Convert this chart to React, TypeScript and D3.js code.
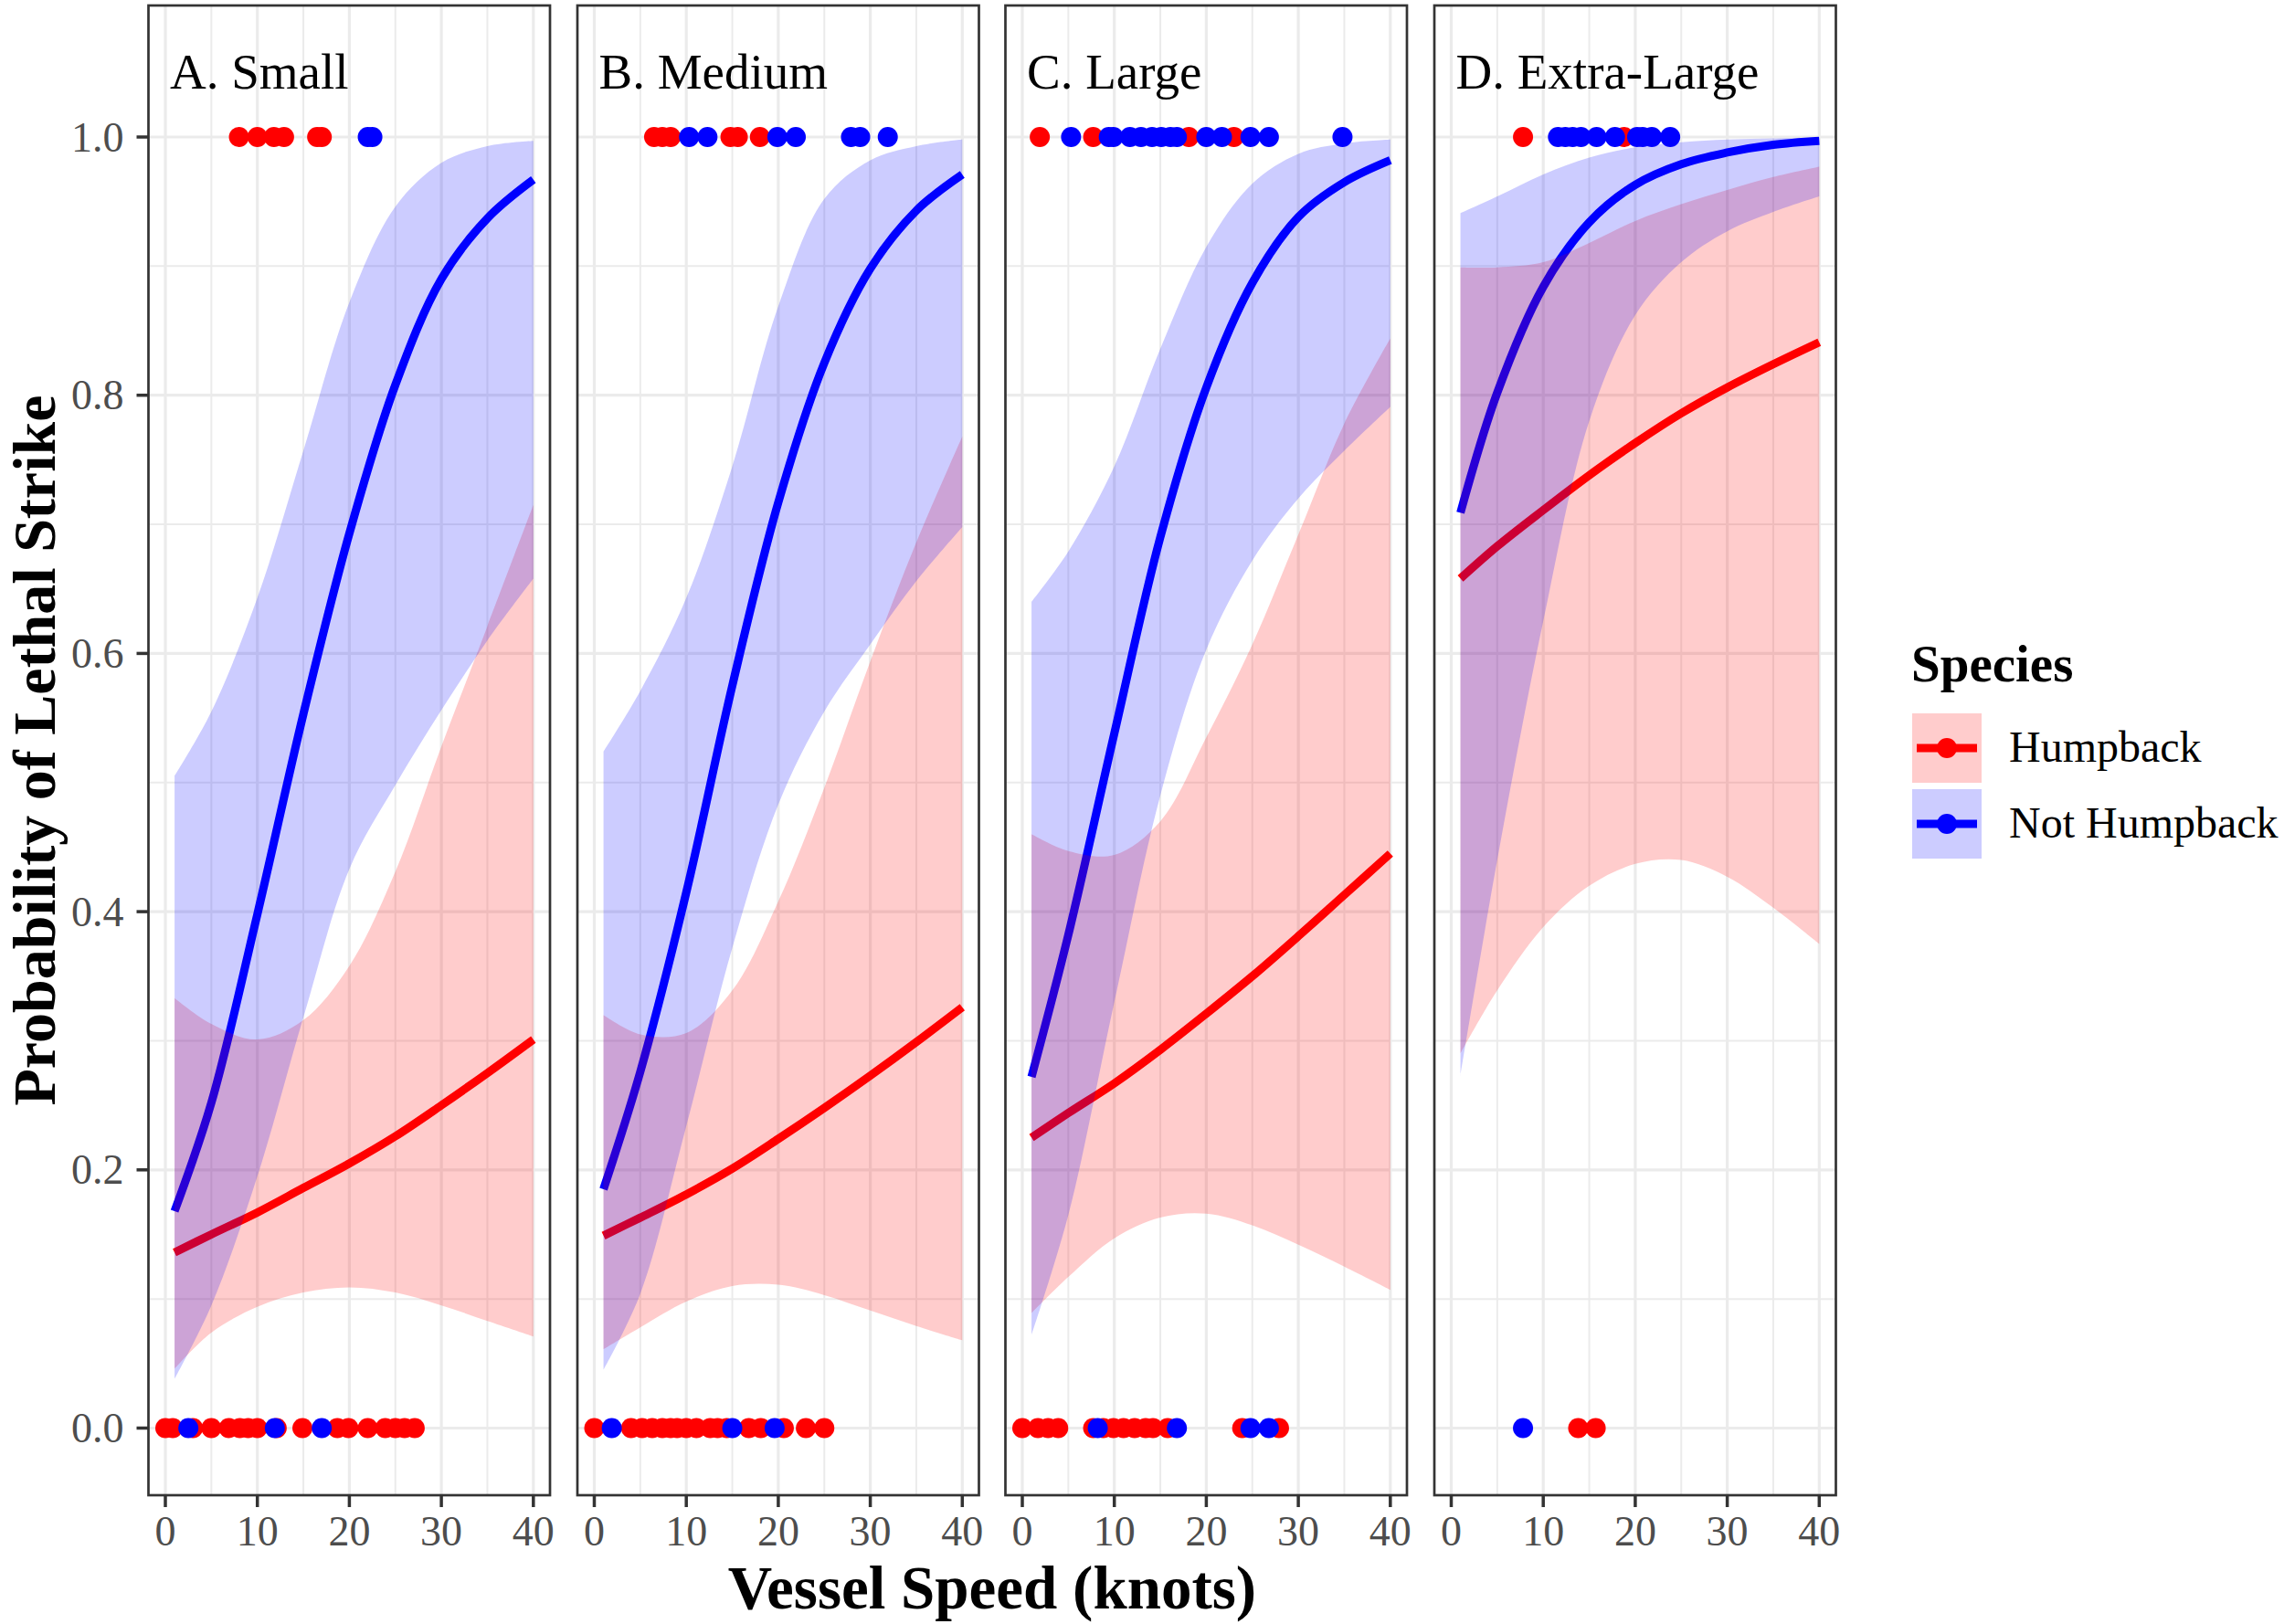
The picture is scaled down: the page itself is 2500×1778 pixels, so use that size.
import React from "react";
import * as d3 from "d3";

// ---------- data ----------
const speeds = [1, 5, 10, 15, 20, 25, 30, 35, 40];
const panelLabels = ["A. Small", "B. Medium", "C. Large", "D. Extra-Large"];
const speciesNames = ["Humpback", "Not Humpback"];
const speciesColors = ["#FF0000", "#0000FF"];
const xTicks = [0, 10, 20, 30, 40];
const xMinor = [5, 15, 25, 35];
const yTicks = [0, 0.2, 0.4, 0.6, 0.8, 1.0];
const yMinor = [0.1, 0.3, 0.5, 0.7, 0.9];

// fitted probability & confidence band, Humpback (per panel, at speeds)
const humpbackFit = [
  [0.136, 0.15, 0.167, 0.186, 0.205, 0.226, 0.25, 0.275, 0.301],
  [0.149, 0.163, 0.181, 0.201, 0.224, 0.248, 0.273, 0.299, 0.326],
  [0.225, 0.244, 0.267, 0.293, 0.321, 0.35, 0.381, 0.413, 0.445],
  [0.658, 0.683, 0.711, 0.738, 0.763, 0.786, 0.806, 0.824, 0.841],
];
const humpbackLow = [
  [0.046, 0.074, 0.094, 0.105, 0.109, 0.105, 0.095, 0.083, 0.071],
  [0.061, 0.078, 0.098, 0.11, 0.111, 0.103, 0.091, 0.079, 0.068],
  [0.089, 0.117, 0.147, 0.163, 0.166, 0.157, 0.142, 0.125, 0.107],
  [0.29, 0.339, 0.388, 0.42, 0.437, 0.44, 0.427, 0.403, 0.375],
];
const humpbackHigh = [
  [0.333, 0.313, 0.301, 0.316, 0.358, 0.431, 0.528, 0.621, 0.715],
  [0.32, 0.305, 0.306, 0.339, 0.408, 0.496, 0.594, 0.686, 0.768],
  [0.46, 0.447, 0.444, 0.47, 0.535, 0.607, 0.692, 0.778, 0.844],
  [0.899, 0.899, 0.903, 0.918, 0.935, 0.948, 0.959, 0.969, 0.977],
];

// Not Humpback
const otherFit = [
  [0.168, 0.252, 0.398, 0.553, 0.693, 0.808, 0.89, 0.937, 0.967],
  [0.185, 0.276, 0.415, 0.575, 0.717, 0.825, 0.898, 0.943, 0.971],
  [0.272, 0.382, 0.538, 0.69, 0.806, 0.887, 0.938, 0.965, 0.982],
  [0.709, 0.802, 0.884, 0.934, 0.963, 0.979, 0.988, 0.994, 0.997],
];
const otherLow = [
  [0.038, 0.095, 0.195, 0.318, 0.433, 0.498, 0.556, 0.61, 0.658],
  [0.045, 0.104, 0.234, 0.372, 0.483, 0.555, 0.607, 0.656, 0.698],
  [0.072, 0.165, 0.33, 0.49, 0.603, 0.672, 0.72, 0.757, 0.791],
  [0.273, 0.44, 0.625, 0.78, 0.862, 0.903, 0.927, 0.942, 0.954],
];
const otherHigh = [
  [0.505, 0.555, 0.643, 0.757, 0.872, 0.946, 0.98, 0.993, 0.997],
  [0.524, 0.571, 0.643, 0.745, 0.869, 0.952, 0.982, 0.993, 0.998],
  [0.64, 0.679, 0.745, 0.836, 0.915, 0.964, 0.987, 0.995, 0.998],
  [0.941, 0.954, 0.971, 0.984, 0.992, 0.996, 0.998, 0.999, 0.9995],
];

// observed strikes: speeds of lethal (1) and non-lethal (0) strikes
const humpbackLethal = [
  [8, 10, 11.8, 12.9, 16.5, 17],
  [6.5, 7.4, 8.3, 14.8, 15.6, 18],
  [1.9, 7.7, 18.1, 23],
  [7.8, 18.8],
];
const humpbackNonLethal = [
  [0, 0.8, 3, 5, 6.9, 8.1, 9, 10, 12.1, 14.9, 18.7, 19.9, 22, 23.9, 25, 26, 27.1],
  [0, 4, 5.2, 6.3, 7.4, 8.3, 9, 10, 11.1, 12.6, 13.4, 14.4, 16.8, 18.1, 20.6, 23, 25],
  [0, 1.7, 2.8, 3.9, 7.7, 8.8, 9.9, 11, 12.2, 13.4, 14.2, 15.8, 23.9, 27.9],
  [13.8, 15.7],
];
const otherLethal = [
  [22, 22.5],
  [10.3, 12.3, 19.9, 21.9, 27.9, 28.9, 31.9],
  [5.3, 9.4, 9.9, 11.7, 12.9, 14.1, 15.1, 16.1, 16.8, 20, 21.7, 24.8, 26.8, 34.8],
  [11.6, 12.4, 13.2, 14.1, 15.8, 17.8, 20.2, 20.8, 21.8, 23.8],
];
const otherNonLethal = [
  [2.5, 11.9, 17],
  [1.9, 15, 19.6],
  [8.2, 16.8, 24.8, 26.8],
  [7.8],
];

// ---------- layout ----------
const W = 2500;
const H = 1778;
const panelLefts = [162.5, 632, 1100.5, 1570];
const panelW = 439.5;
const panelTop = 6;
const panelH = 1631;
const FONT = "'Liberation Serif', 'Times New Roman', Times, serif";

const x = d3.scaleLinear().domain([-1.837, 41.807]).range([0, panelW]);
const y = d3.scaleLinear().domain([-0.052, 1.10188]).range([panelH, 0]);

const curve = d3.curveCatmullRom.alpha(0.5);

const lineGen = d3
  .line<[number, number]>()
  .x((d) => x(d[0]))
  .y((d) => y(d[1]))
  .curve(curve);

const areaGen = d3
  .area<[number, number, number]>()
  .x((d) => x(d[0]))
  .y0((d) => y(d[1]))
  .y1((d) => y(d[2]))
  .curve(curve);

function Panel({ i }: { i: number }) {
  const fits = [humpbackFit[i], otherFit[i]];
  const lows = [humpbackLow[i], otherLow[i]];
  const highs = [humpbackHigh[i], otherHigh[i]];
  const pts: { s: number; v: number; sp: number }[] = [];
  humpbackLethal[i].forEach((v) => pts.push({ s: 0, v: 1, sp: v }));
  humpbackNonLethal[i].forEach((v) => pts.push({ s: 0, v: 0, sp: v }));
  otherLethal[i].forEach((v) => pts.push({ s: 1, v: 1, sp: v }));
  otherNonLethal[i].forEach((v) => pts.push({ s: 1, v: 0, sp: v }));
  const clipId = `clip${i}`;
  return (
    <g transform={`translate(${panelLefts[i]},${panelTop})`}>
      <defs>
        <clipPath id={clipId}>
          <rect x={0} y={0} width={panelW} height={panelH} />
        </clipPath>
      </defs>
      <rect x={0} y={0} width={panelW} height={panelH} fill="#FFFFFF" />
      <g clipPath={`url(#${clipId})`}>
        {xMinor.map((t) => (
          <line key={"xm" + t} x1={x(t)} x2={x(t)} y1={0} y2={panelH} stroke="#EBEBEB" strokeWidth={2} />
        ))}
        {yMinor.map((t) => (
          <line key={"ym" + t} x1={0} x2={panelW} y1={y(t)} y2={y(t)} stroke="#EBEBEB" strokeWidth={2} />
        ))}
        {xTicks.map((t) => (
          <line key={"xM" + t} x1={x(t)} x2={x(t)} y1={0} y2={panelH} stroke="#EBEBEB" strokeWidth={3.2} />
        ))}
        {yTicks.map((t) => (
          <line key={"yM" + t} x1={0} x2={panelW} y1={y(t)} y2={y(t)} stroke="#EBEBEB" strokeWidth={3.2} />
        ))}
        {fits.map((f, s) => (
          <path
            key={"l" + s}
            d={lineGen(speeds.map((sp, k) => [sp, f[k]] as [number, number])) || ""}
            fill="none"
            stroke={speciesColors[s]}
            strokeWidth={9}
          />
        ))}
        {lows.map((lo, s) => (
          <path
            key={"a" + s}
            d={areaGen(speeds.map((sp, k) => [sp, lo[k], highs[s][k]] as [number, number, number])) || ""}
            fill={speciesColors[s]}
            fillOpacity={0.2}
            stroke="none"
          />
        ))}
        {pts
          .filter((p) => p.s === 0)
          .map((p, k) => (
            <circle key={"pr" + k} cx={x(p.sp)} cy={y(p.v)} r={11} fill={speciesColors[0]} />
          ))}
        {pts
          .filter((p) => p.s === 1)
          .map((p, k) => (
            <circle key={"pb" + k} cx={x(p.sp)} cy={y(p.v)} r={11} fill={speciesColors[1]} />
          ))}
      </g>
      <text x={x(0.5)} y={y(1.05) + 18} fontFamily={FONT} fontSize={55} fill="#000000">
        {panelLabels[i]}
      </text>
      <rect x={0} y={0} width={panelW} height={panelH} fill="none" stroke="#333333" strokeWidth={2.7} />
      {xTicks.map((t) => (
        <g key={"xt" + t}>
          <line x1={x(t)} x2={x(t)} y1={panelH} y2={panelH + 13} stroke="#333333" strokeWidth={3.5} />
          <text x={x(t)} y={panelH + 55} textAnchor="middle" fontFamily={FONT} fontSize={46} fill="#4D4D4D">
            {t}
          </text>
        </g>
      ))}
      {i === 0 &&
        yTicks.map((t) => (
          <g key={"yt" + t}>
            <line x1={-13} x2={0} y1={y(t)} y2={y(t)} stroke="#333333" strokeWidth={3.5} />
            <text x={-27} y={y(t) + 15.5} textAnchor="end" fontFamily={FONT} fontSize={46} fill="#4D4D4D">
              {t.toFixed(1)}
            </text>
          </g>
        ))}
    </g>
  );
}

function Legend() {
  const keyX = 2093;
  const keyY = [781, 864];
  const k = 76;
  return (
    <g>
      <text x={2092} y={746} fontFamily={FONT} fontSize={57} fontWeight="bold" fill="#000000">
        Species
      </text>
      {speciesNames.map((name, s) => (
        <g key={name}>
          <rect x={keyX} y={keyY[s]} width={k} height={k} fill={speciesColors[s]} fillOpacity={0.2} />
          <line
            x1={keyX + 5}
            x2={keyX + k - 5}
            y1={keyY[s] + k / 2}
            y2={keyY[s] + k / 2}
            stroke={speciesColors[s]}
            strokeWidth={9}
          />
          <circle cx={keyX + k / 2} cy={keyY[s] + k / 2} r={11} fill={speciesColors[s]} />
          <text x={2199} y={keyY[s] + 52.5} fontFamily={FONT} fontSize={48} fill="#000000">
            {name}
          </text>
        </g>
      ))}
    </g>
  );
}

export default function App() {
  const plotCenterX = (panelLefts[0] + panelLefts[3] + panelW) / 2;
  const plotCenterY = panelTop + panelH / 2;
  return (
    <svg
      width={W}
      height={H}
      viewBox={`0 0 ${W} ${H}`}
      style={{ position: "absolute", left: 0, top: 0, background: "#FFFFFF" }}
    >
      <rect x={0} y={0} width={W} height={H} fill="#FFFFFF" />
      {panelLabels.map((_, i) => (
        <Panel key={i} i={i} />
      ))}
      <text
        x={plotCenterX}
        y={1761}
        textAnchor="middle"
        fontFamily={FONT}
        fontSize={67}
        fontWeight="bold"
        fill="#000000"
      >
        Vessel Speed (knots)
      </text>
      <text
        transform={`translate(60,${plotCenterY}) rotate(-90)`}
        textAnchor="middle"
        fontFamily={FONT}
        fontSize={66}
        fontWeight="bold"
        fill="#000000"
      >
        Probability of Lethal Strike
      </text>
      <Legend />
    </svg>
  );
}
